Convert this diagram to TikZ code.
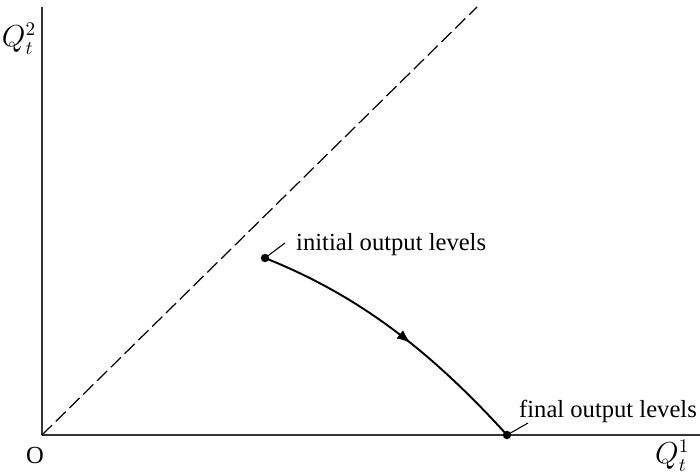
\documentclass[tikz,border=0pt]{standalone}
\usepackage{fontspec}
\setmainfont{Liberation Serif}
\usetikzlibrary{arrows.meta,decorations.markings}

\begin{document}
\begin{tikzpicture}[x=0.02cm,y=0.02cm,>=Latex,font=\fontsize{14}{16}\selectfont,
    axis/.style={black!80,line width=0.6pt},
    diagonal/.style={black,line width=0.7pt,dash pattern=on 8pt off 3pt},
    dot/.style={circle,fill=black,inner sep=0pt,minimum size=4.8pt},
    path line/.style={line width=1.1pt,postaction={decorate},
      decoration={markings,mark=at position 0.56 with {\arrow{Latex[length=8pt,width=6pt]}}}},
    leader/.style={line width=0.6pt}]
  \useasboundingbox (-42,-36) rectangle (658,435);
  % axes and the 45 degree line
  \coordinate (O) at (0,0);
  \coordinate (xend) at (658,0);
  \coordinate (yend) at (0,428);
  \coordinate (diag) at (435,428);
  \draw[axis] (O) -- (xend);
  \draw[axis] (O) -- (yend);
  \draw[diagonal] (O) -- (diag);
  \node (olab) at (-7,-20) {O};
  \node[anchor=west,font=\fontsize{16}{18}\selectfont] (q1lab) at (607,-21) {$Q_t^1$};
  \node[font=\fontsize{16}{18}\selectfont] (q2lab) at (-23,396) {$Q_t^2$};
  % adjustment path
  \node[dot] (init) at (223,177) {};
  \node[dot] (final) at (465,0) {};
  \draw[path line] (init.center) .. controls (313,141) and (385,88) .. (final.center);
  % labels with leaders
  \node[anchor=base west] (initlab) at (248,185) {initial output levels};
  \coordinate (initend) at (243,192);
  \draw[leader] (init.center) -- (initend);
  \node[anchor=base west] (finallab) at (471,18) {final output levels};
  \coordinate (finalend) at (486,12);
  \draw[leader] (final.center) -- (finalend);
\end{tikzpicture}
\end{document}
